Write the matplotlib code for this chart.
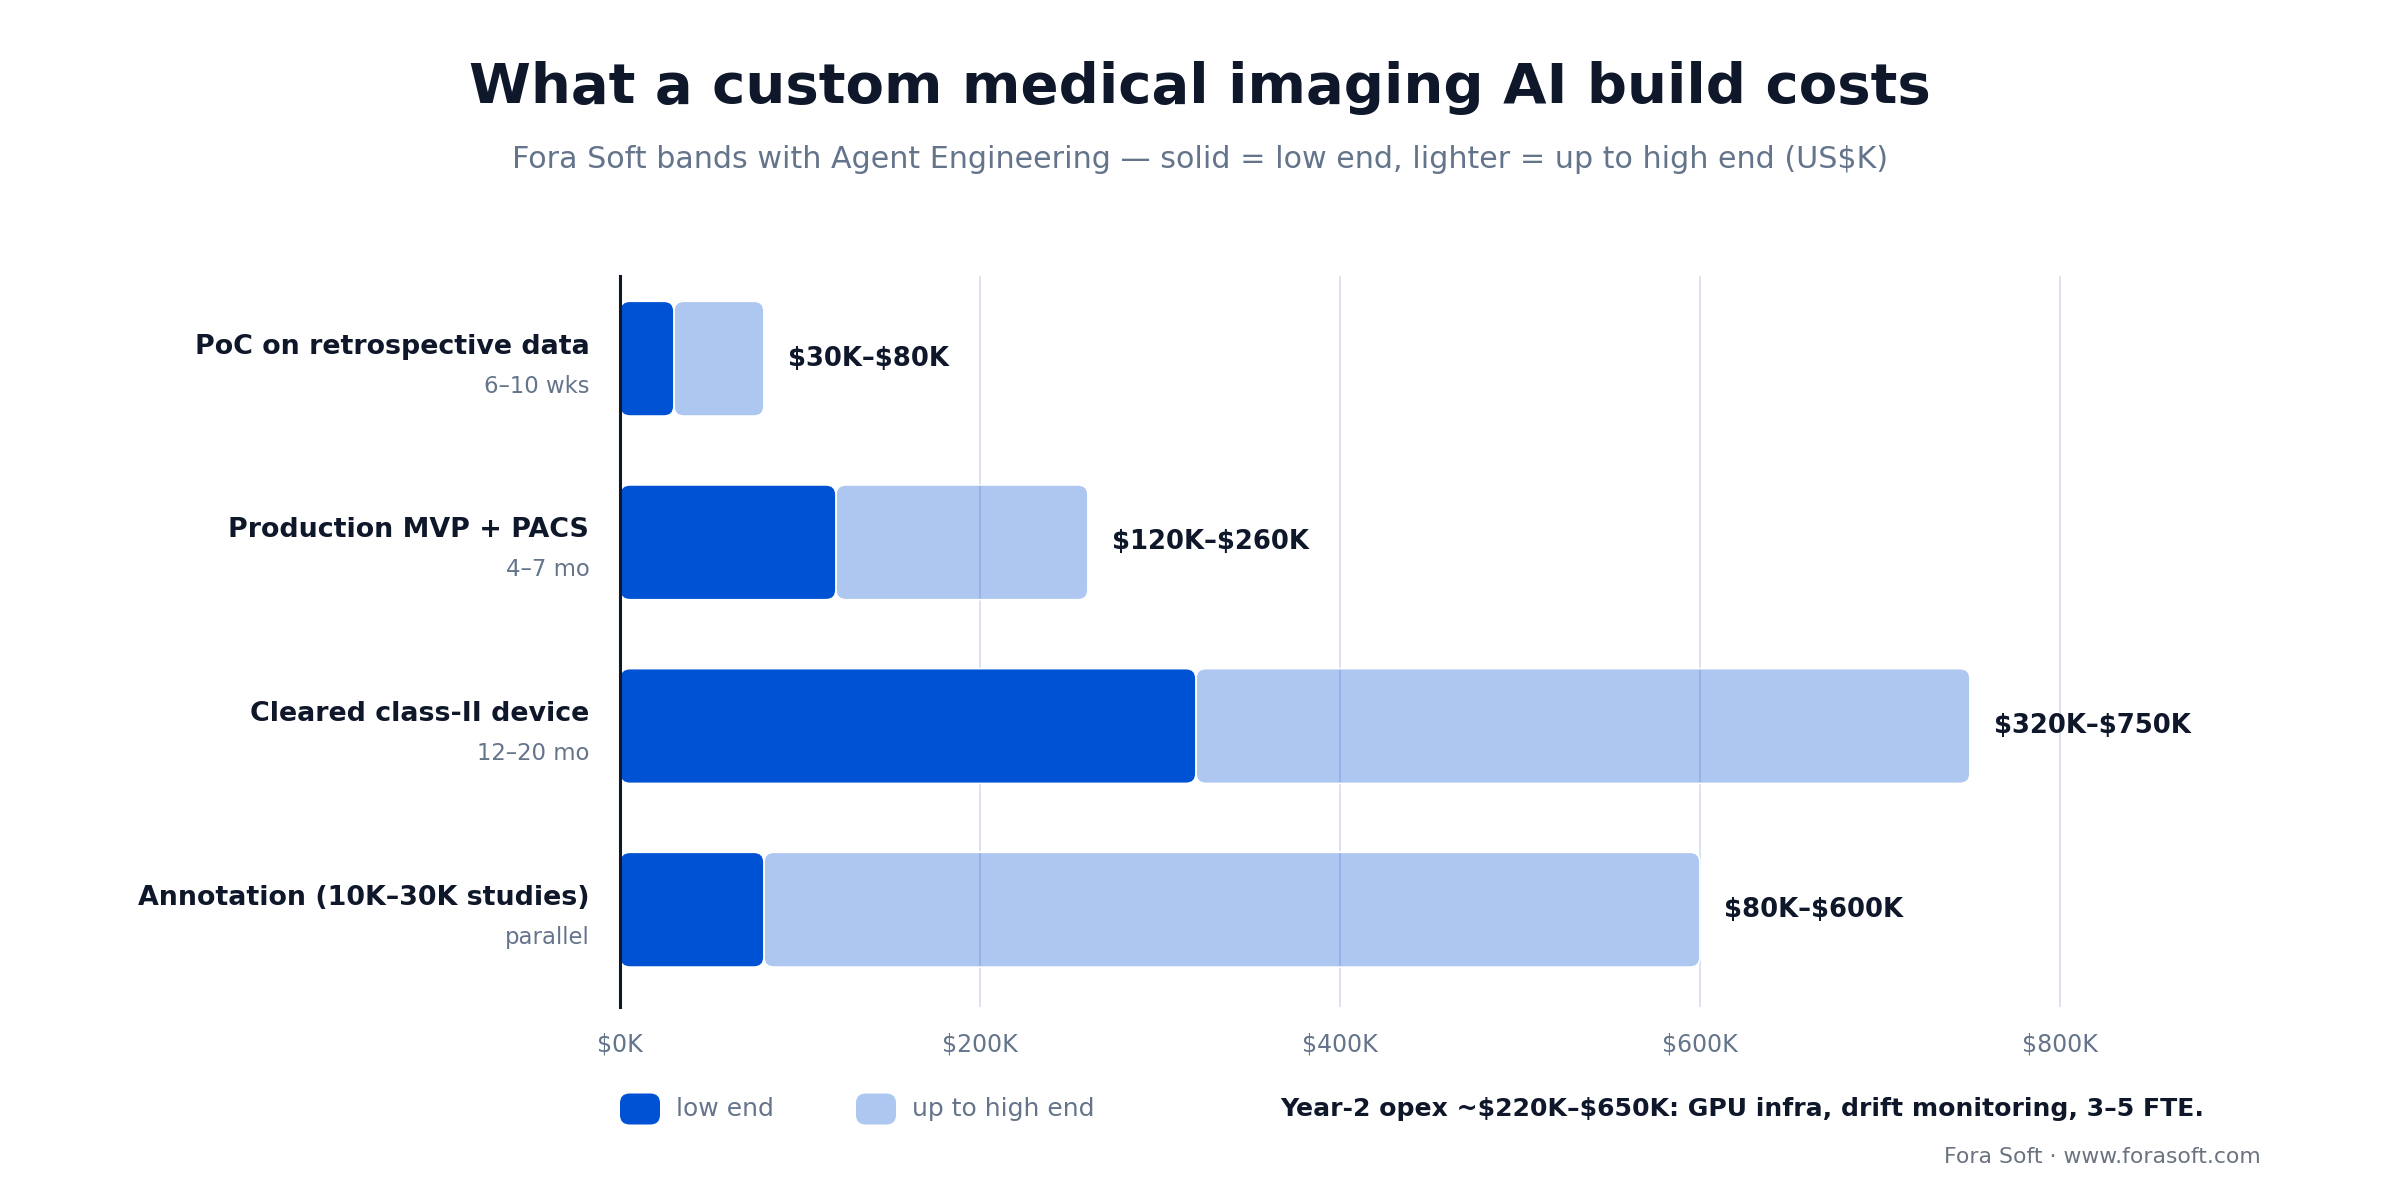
import numpy as np
import matplotlib
matplotlib.use("Agg")
import matplotlib.pyplot as plt
from matplotlib.patches import FancyBboxPatch

# data (US$K)
stages = ["PoC on retrospective data", "Production MVP + PACS",
          "Cleared class-II device", "Annotation (10K\u201330K studies)"]
durations = ["6\u201310 wks", "4\u20137 mo", "12\u201320 mo", "parallel"]
low_end = [30, 120, 320, 80]
high_end = [80, 260, 750, 600]
tick_vals = [0, 200, 400, 600, 800]
tick_labels = ["$0K", "$200K", "$400K", "$600K", "$800K"]

DARK = "#0F172A"
GRAY = "#64748B"
BLUE = "#0052D4"
LIGHT = (0 / 255, 82 / 255, 212 / 255, 0.32)
GRID = "#DDE2F1"

plt.rcParams["font.family"] = ["DejaVu Sans"]
plt.rcParams["text.parse_math"] = False

W, H, DPI = 12, 6, 200
fig = plt.figure(figsize=(W, H), dpi=DPI)
ax = fig.add_axes([0.2583, 0.1608, 0.675, 0.6092])

xmin, xmax = 0, 900
ymin, ymax = 3.53, -0.45
ax.set_xlim(xmin, xmax)
ax.set_ylim(ymin, ymax)

# pixels per data unit, so the corners stay round
bbox = ax.get_position()
px_x = bbox.width * W * DPI / (xmax - xmin)
px_y = bbox.height * H * DPI / abs(ymin - ymax)
aspect = px_x / px_y
r = 5.5
bar_h = 0.625

y = np.arange(len(stages))
for i in y:
    lo, hi = low_end[i], high_end[i]
    light = FancyBboxPatch((lo, i - bar_h / 2), hi - lo, bar_h,
                           boxstyle=f"round,pad=0,rounding_size={r}",
                           mutation_aspect=aspect, facecolor=LIGHT,
                           edgecolor="white", linewidth=0.6, zorder=2)
    dark = FancyBboxPatch((0, i - bar_h / 2), lo, bar_h,
                          boxstyle=f"round,pad=0,rounding_size={r}",
                          mutation_aspect=aspect, facecolor=BLUE,
                          edgecolor="white", linewidth=0.6, zorder=3)
    ax.add_patch(light)
    ax.add_patch(dark)
    ax.text(hi + 13.5, i, f"${lo}K\u2013${hi}K", va="center", ha="left",
            fontsize=9.3, fontweight="bold", color=DARK)
    ax.text(-17, i - 0.065, stages[i], va="center", ha="right",
            fontsize=9.7, fontweight="bold", color=DARK)
    ax.text(-17, i + 0.15, durations[i], va="center", ha="right",
            fontsize=8.2, color=GRAY)

ax.set_xticks(tick_vals, labels=tick_labels)
ax.set_yticks([])
ax.tick_params(axis="x", length=0, pad=9, labelsize=8.5, labelcolor=GRAY)
ax.xaxis.grid(True, color=GRID, linewidth=0.7)
ax.set_axisbelow(True)
for s in ["top", "right", "bottom"]:
    ax.spines[s].set_visible(False)
ax.spines["left"].set_color(DARK)
ax.spines["left"].set_linewidth(1.1)
ax.spines["left"].set_zorder(5)

# titles
fig.text(0.5, 0.927, "What a custom medical imaging AI build costs",
         ha="center", va="center", fontsize=20.2, fontweight="bold", color=DARK)
fig.text(0.5, 0.8675,
         "Fora Soft bands with Agent Engineering \u2014 solid = low end, "
         "lighter = up to high end (US$K)",
         ha="center", va="center", fontsize=10.85, color=GRAY)

# legend
ly = 1 - 1109 / 1200
sw, sh = 40 / 2400, 31 / 1200
for x0, col, lab in [(620 / 2400, BLUE, "low end"),
                     (856 / 2400, LIGHT, "up to high end")]:
    p = FancyBboxPatch((x0, ly - sh / 2), sw, sh,
                       boxstyle="round,pad=0,rounding_size=0.004",
                       mutation_aspect=2, facecolor=col, edgecolor="none",
                       transform=fig.transFigure)
    fig.patches.append(p)
    fig.text(x0 + sw + 16 / 2400, ly, lab, ha="left", va="center",
             fontsize=9, color=GRAY)

fig.text(1280 / 2400, ly,
         "Year-2 opex ~$220K\u2013$650K: GPU infra, drift monitoring, 3\u20135 FTE.",
         ha="left", va="center", fontsize=9.05, fontweight="bold", color=DARK)
fig.text(2261 / 2400, 1 - 1157 / 1200, "Fora Soft \u00b7 www.forasoft.com",
         ha="right", va="center", fontsize=7.9, color="#6B7280")

fig.savefig("out.png", dpi=DPI)
